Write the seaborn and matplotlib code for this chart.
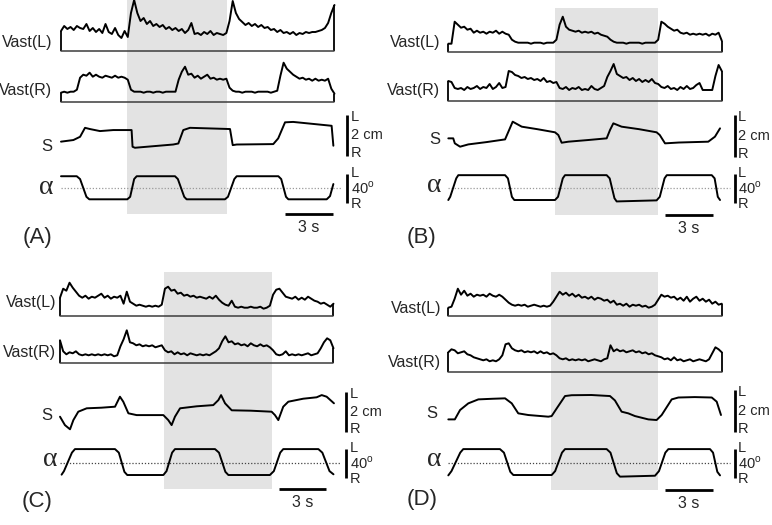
import numpy as np
import matplotlib
matplotlib.use('Agg')
import matplotlib.pyplot as plt
import seaborn as sns

sns.set_style('white')
plt.rcParams['font.family'] = ['Liberation Sans', 'DejaVu Sans']
plt.rcParams['mathtext.fontset'] = 'custom'
plt.rcParams['mathtext.rm'] = 'Liberation Sans'

FIG_W, FIG_H = 772, 525
PX_PER_S = 15.9          # time scale of the traces
DURATION = 17.2          # s shown in each panel
EMG_DT = 0.2             # s between EMG samples
EMG_RANGE = 55           # a.u. shown above the EMG baseline
S_BAR_CM = 2
ALPHA_BAR_DEG = 40
ALPHA_PX_PER_DEG = 0.71
TIME_BAR_S = 3
SHADE = '#e3e3e3'

# ---- EMG envelopes of m. vastus (left / right), height above baseline (a.u.)
A_VAST_L = [20, 25, 22, 24, 21, 25, 23, 22, 27, 20,
            23, 19, 22, 18, 27, 19, 17, 23, 16, 13,
            20, 14, 38, 51, 38, 30, 33, 27, 30, 25,
            27, 24, 26, 22, 24, 21, 23, 20, 22, 18,
            21, 28, 17, 18, 16, 19, 17, 20, 16, 18,
            17, 16, 18, 30, 50, 38, 32, 29, 26, 28,
            25, 27, 24, 26, 23, 24, 21, 22, 19, 21,
            18, 19, 17, 19, 16, 18, 17, 19, 18, 19,
            19, 20, 21, 23, 28, 38, 46]
A_VAST_R = [9, 10, 9, 10, 10, 12, 24, 27, 26, 29,
            25, 27, 25, 24, 26, 25, 24, 26, 24, 25,
            24, 22, 12, 10, 10, 10, 9, 10, 10, 9,
            10, 10, 9, 10, 10, 10, 10, 22, 30, 35,
            27, 28, 24, 26, 23, 25, 27, 23, 24, 22,
            23, 22, 23, 14, 11, 10, 10, 9, 10, 10,
            10, 9, 10, 10, 10, 10, 9, 10, 11, 26,
            39, 33, 30, 27, 25, 23, 24, 22, 23, 21,
            23, 21, 22, 21, 23, 13, 8]
B_VAST_L = [8, 8, 30, 27, 24, 25, 22, 23, 19, 21,
            19, 20, 18, 20, 19, 21, 18, 20, 18, 17,
            12, 10, 9, 9, 9, 9, 8, 9, 9, 9,
            8, 9, 9, 9, 12, 27, 35, 25, 22, 21,
            20, 21, 19, 20, 19, 20, 18, 19, 17, 16,
            15, 12, 10, 9, 9, 9, 8, 9, 9, 9,
            9, 8, 9, 9, 9, 9, 12, 30, 28, 25,
            23, 21, 22, 19, 18, 19, 17, 18, 17, 18,
            17, 18, 16, 18, 17, 19, 11]
B_VAST_R = [20, 19, 13, 12, 13, 11, 14, 12, 13, 15,
            12, 14, 13, 17, 12, 14, 18, 13, 14, 30,
            29, 26, 25, 23, 24, 22, 23, 21, 22, 20,
            23, 19, 20, 18, 19, 13, 12, 14, 11, 13,
            12, 14, 11, 12, 11, 15, 12, 11, 13, 15,
            24, 30, 37, 27, 25, 23, 24, 21, 23, 20,
            22, 19, 21, 19, 22, 18, 17, 14, 13, 15,
            12, 13, 11, 14, 12, 15, 12, 13, 16, 18,
            11, 11, 11, 11, 25, 36, 30]
C_VAST_L = [18, 27, 25, 33, 28, 24, 20, 18, 20, 17,
            19, 18, 20, 22, 18, 20, 17, 19, 18, 20,
            12, 24, 14, 12, 10, 11, 10, 9, 10, 9,
            10, 9, 11, 27, 29, 25, 26, 22, 23, 20,
            21, 19, 20, 18, 19, 18, 17, 19, 17, 20,
            16, 13, 11, 10, 15, 9, 8, 9, 8, 8,
            9, 8, 8, 9, 7, 8, 10, 21, 26, 27,
            23, 19, 18, 17, 19, 16, 18, 16, 19, 17,
            15, 14, 12, 13, 11, 9, 12]
C_VAST_R = [23, 12, 9, 11, 10, 12, 9, 8, 9, 8,
            9, 8, 9, 8, 9, 8, 9, 7, 8, 17,
            24, 33, 21, 20, 18, 19, 17, 18, 17, 18,
            16, 17, 18, 13, 11, 12, 9, 11, 9, 10,
            8, 10, 9, 8, 9, 8, 9, 8, 10, 12,
            15, 22, 27, 21, 22, 19, 20, 18, 19, 17,
            20, 18, 17, 19, 17, 18, 16, 13, 9, 8,
            9, 12, 8, 9, 8, 9, 8, 9, 10, 8,
            9, 10, 15, 21, 25, 23, 15]
D_VAST_L = [8, 9, 17, 27, 21, 25, 20, 22, 19, 21,
            20, 21, 19, 22, 20, 19, 21, 19, 16, 13,
            11, 10, 11, 10, 11, 9, 10, 11, 10, 9,
            10, 9, 10, 14, 19, 24, 21, 23, 20, 22,
            19, 21, 18, 19, 17, 19, 16, 18, 17, 15,
            16, 13, 15, 11, 12, 10, 12, 9, 11, 10,
            11, 9, 10, 8, 9, 11, 16, 21, 19, 20,
            18, 19, 16, 18, 15, 19, 14, 17, 19, 15,
            17, 14, 16, 12, 14, 11, 12]
D_VAST_R = [20, 23, 22, 19, 20, 21, 18, 17, 15, 14,
            13, 12, 13, 11, 12, 11, 13, 17, 28, 29,
            24, 22, 21, 22, 20, 21, 20, 21, 19, 21,
            19, 20, 18, 19, 17, 14, 13, 14, 12, 13,
            12, 13, 12, 13, 11, 12, 13, 12, 11, 13,
            14, 27, 21, 23, 21, 22, 20, 21, 22, 20,
            21, 19, 20, 18, 19, 17, 16, 15, 13, 14,
            12, 15, 12, 13, 11, 12, 13, 11, 12, 13,
            12, 11, 13, 19, 25, 23, 20]

# ---- sway S (cm, + = left)
A_S_T = [0, 0.78, 1.2, 1.51, 1.82, 2.45, 3.29, 4.44, 4.5, 4.65, 7.06, 7.38,
         7.69, 8.11, 10.63, 10.8, 11.05, 13.35, 13.66, 14.09, 14.6, 17.02, 17.13]
A_S = [-0.31, -0.23, -0.07, 0.37, 0.31, 0.21, 0.26, 0.26, -0.56, -0.61, -0.45, -0.40,
       0.26, 0.37, 0.31, -0.48, -0.45, -0.43, -0.15, 0.64, 0.66, 0.47, -0.51]
B_S_T = [0, 0.31, 0.41, 0.74, 1.26, 2.4, 3.57, 3.78, 4.05, 4.62, 5.6, 6.71, 6.92,
         7.13, 7.55, 8.8, 9.96, 10.17, 10.38, 10.9, 12.0, 13.1, 13.3, 13.63, 14.5,
         16.35, 16.77, 17.09]
B_S = [-0.12, -0.12, -0.36, -0.52, -0.41, -0.30, -0.17, 0.20, 0.68, 0.44, 0.32, 0.17, 0.04,
       -0.33, -0.28, -0.20, -0.12, 0.28, 0.60, 0.44, 0.32, 0.17, 0.04, -0.36, -0.32,
       -0.28, -0.04, 0.36]
C_S_T = [0, 0.31, 0.63, 0.84, 1.15, 1.68, 2.6, 3.46, 3.77, 3.98, 4.3, 4.82, 5.7, 6.5,
         6.81, 7.02, 7.23, 7.55, 8.6, 9.64, 9.96, 10.13, 10.38, 10.8, 12.0, 13.31,
         13.52, 13.73, 14.04, 14.36, 15.3, 16.14, 16.46, 16.77, 17.23]
C_S = [-0.25, -0.67, -0.88, -0.42, 0.0, 0.17, 0.2, 0.25, 0.75, 0.5, -0.08, -0.17, -0.17, -0.17,
       -0.42, -0.67, -0.25, 0.17, 0.27, 0.33, 0.58, 0.83, 0.42, 0.07, 0.05, 0.0,
       -0.17, -0.42, 0.25, 0.5, 0.65, 0.72, 0.83, 0.75, 0.42]
D_S_T = [0, 0.41, 0.74, 1.26, 1.89, 2.8, 3.57, 3.99, 4.4, 5.03, 6.29, 6.5, 6.82, 7.34,
         7.76, 9.0, 10.17, 10.48, 10.9, 11.32, 11.74, 12.58, 13.1, 13.42, 14.05, 14.47,
         15.5, 16.57, 16.88, 17.15]
D_S = [-0.41, -0.41, 0.04, 0.36, 0.55, 0.58, 0.60, 0.36, -0.12, -0.2, -0.28, -0.25, 0.12, 0.71,
       0.75, 0.76, 0.71, 0.5, -0.04, -0.12, -0.25, -0.41, -0.44, -0.2, 0.55, 0.64,
       0.66, 0.64, 0.44, -0.2]

# ---- platform tilt alpha (deg, + = left)
A_ALPHA_T = [0, 0.99, 1.2, 1.6, 1.78, 4.17, 4.35, 4.6, 4.76, 7.17, 7.35, 7.75, 7.9,
             10.31, 10.5, 10.9, 11.05, 13.67, 13.85, 14.15, 14.3, 16.71, 16.92, 17.13]
A_ALPHA = [17, 17, 13, -12, -15.5, -15.5, -12, 13, 17, 17, 13, -12, -15.5,
           -15.5, -12, 13, 17, 17, 13, -12, -15.5, -15.5, -11, 6]
B_ALPHA_T = [0, 0.12, 0.5, 0.63, 3.57, 3.75, 4.0, 4.15, 6.71, 6.9, 7.2, 7.34, 9.96,
             10.15, 10.45, 10.59, 13.1, 13.3, 13.6, 13.74, 16.57, 16.75, 16.95, 17.09]
B_ALPHA = [-16.5, -12, 14, 18.5, 18.5, 14, -12, -16.5, -16.5, -12, 14, 18.5, 18.5,
           14, -14, -18.5, -17, -12, 14, 18.5, 18.5, 14, -12, -16.5]
C_ALPHA_T = [0.1, 0.25, 0.75, 0.94, 3.46, 3.7, 4.05, 4.23, 6.5, 6.7, 7.05, 7.23, 9.75,
             10.0, 10.4, 10.59, 13.2, 13.45, 13.85, 14.04, 16.25, 16.5, 16.95, 17.2]
C_ALPHA = [-16, -11, 15, 20, 20, 15, -12, -16.5, -16.5, -11, 15, 20, 20,
           15, -12, -16.5, -16.5, -11, 15, 20, 20, 15, -11, -15.5]
D_ALPHA_T = [0, 0.2, 0.75, 0.94, 3.25, 3.5, 3.9, 4.09, 6.5, 6.72, 7.15, 7.34, 9.96,
             10.2, 10.6, 10.8, 13.0, 13.25, 13.65, 13.84, 16.46, 16.65, 16.92, 17.09]
D_ALPHA = [-17, -11, 15, 20, 20, 15, -12, -16.5, -16.5, -11, 15, 20, 20,
           15, -14, -18.8, -17.5, -11, 15, 20, 20, 15, -12, -17]

# ---- shaded interval (s)
A_SHADE = [4.13, 10.42]
B_SHADE = [6.71, 13.2]
C_SHADE = [6.56, 13.31]
D_SHADE = [6.46, 13.2]

PANELS = {
    'A': dict(vast_l=A_VAST_L, vast_r=A_VAST_R, s_t=A_S_T, s=A_S, a_t=A_ALPHA_T, a=A_ALPHA, shade=A_SHADE),
    'B': dict(vast_l=B_VAST_L, vast_r=B_VAST_R, s_t=B_S_T, s=B_S, a_t=B_ALPHA_T, a=B_ALPHA, shade=B_SHADE),
    'C': dict(vast_l=C_VAST_L, vast_r=C_VAST_R, s_t=C_S_T, s=C_S, a_t=C_ALPHA_T, a=C_ALPHA, shade=C_SHADE),
    'D': dict(vast_l=D_VAST_L, vast_r=D_VAST_R, s_t=D_S_T, s=D_S, a_t=D_ALPHA_T, a=D_ALPHA, shade=D_SHADE),
}

# pixel layout of each panel
LAYOUT = {
    'A': dict(x0=61, l_base=51, r_base=101.7, s_top=115, s_bot=155.7, a_mid=188.3,
              sh_top=0, sh_bot=214, dot='#9a9a9a', lab_x=52.5, s_x=52, l_y=42, r_y=90,
              s_y=146, a_base=194, tag=(37, 238), bar_t=14.1),
    'B': dict(x0=448.3, l_base=51.7, r_base=101, s_top=115, s_bot=156.7, a_mid=188.3,
              sh_top=8.3, sh_bot=215, dot='#9a9a9a', lab_x=440.5, s_x=440, l_y=43, r_y=90,
              s_y=140, a_base=192.5, tag=(421, 237), bar_t=13.65),
    'C': dict(x0=60, l_base=315.7, r_base=363.3, s_top=391.7, s_bot=431.7, a_mid=463.3,
              sh_top=272, sh_bot=489, dot='#444444', lab_x=56, s_x=52, l_y=302, r_y=352,
              s_y=415, a_base=466, tag=(37, 502), bar_t=13.75),
    'D': dict(x0=448.3, l_base=315.7, r_base=372.3, s_top=390, s_bot=431.7, a_mid=463.3,
              sh_top=271.7, sh_bot=490, dot='#444444', lab_x=441, s_x=437, l_y=308, r_y=362,
              s_y=413, a_base=466, tag=(422, 500), bar_t=13.65),
}
BAR_T = 18.0  # time position of the vertical scale bars


def px_axes(fig, left, top, width, height):
    ax = fig.add_axes([left / FIG_W, 1 - (top + height) / FIG_H, width / FIG_W, height / FIG_H])
    ax.axis('off')
    return ax


def fig_text(fig, x, y, s, **kw):
    fig.text(x / FIG_W, 1 - y / FIG_H, s, **kw)


def draw_emg(ax, values):
    t = np.arange(len(values)) * EMG_DT
    sns.lineplot(x=t, y=values, ax=ax, color='black', linewidth=1.4,
                 estimator=None, sort=False, clip_on=False)
    ax.vlines([t[0], t[-1]], 0, [values[0], values[-1]], color='black', linewidth=1.3, clip_on=False)
    ax.axhline(0, color='#3c3c3c', linewidth=1.1, clip_on=False)
    ax.set_xlim(0, DURATION)
    ax.set_ylim(0, EMG_RANGE)


fig = plt.figure(figsize=(FIG_W / 100, FIG_H / 100), dpi=100)
width = DURATION * PX_PER_S

for key, data in PANELS.items():
    lay = LAYOUT[key]
    x0 = lay['x0']

    # shaded interval and time scale bar
    back = px_axes(fig, x0, lay['sh_top'], width, lay['sh_bot'] - lay['sh_top'])
    back.axvspan(*data['shade'], color=SHADE, lw=0)
    back.set_xlim(0, DURATION)
    back.set_ylim(0, 1)
    t_bar = [lay['bar_t'], lay['bar_t'] + TIME_BAR_S]
    back.plot(t_bar, [0, 0], color='black', lw=2, clip_on=False, solid_capstyle='butt')
    back.annotate(f'{TIME_BAR_S} s', (np.mean(t_bar), 0), xytext=(0, -10),
                  textcoords='offset points', ha='center', va='center', fontsize=11.5)

    # EMG traces
    for vals, base in [(data['vast_l'], lay['l_base']), (data['vast_r'], lay['r_base'])]:
        ax = px_axes(fig, x0, base - EMG_RANGE, width, EMG_RANGE)
        draw_emg(ax, vals)

    # sway S
    ax_s = px_axes(fig, x0, lay['s_top'], width, lay['s_bot'] - lay['s_top'])
    sns.lineplot(x=data['s_t'], y=data['s'], ax=ax_s, color='black', linewidth=1.4,
                 estimator=None, sort=False, clip_on=False)
    ax_s.set_xlim(0, DURATION)
    ax_s.set_ylim(-S_BAR_CM / 2, S_BAR_CM / 2)
    ax_s.plot([BAR_T, BAR_T], [-S_BAR_CM / 2, S_BAR_CM / 2], color='black', lw=2,
              clip_on=False, solid_capstyle='butt')
    for y, s in [(0.9, 'L'), (0.0, f'{S_BAR_CM} cm'), (-0.87, 'R')]:
        ax_s.text(BAR_T + 0.22, y, s, va='center', ha='left', fontsize=10.5)

    # tilt alpha
    a_h = ALPHA_BAR_DEG * ALPHA_PX_PER_DEG
    ax_a = px_axes(fig, x0, lay['a_mid'] - a_h / 2, width, a_h)
    ax_a.axhline(0, xmin=0, xmax=17.7 / DURATION, ls=(0, (1, 1.5)), color=lay['dot'],
                 lw=0.9, clip_on=False)
    sns.lineplot(x=data['a_t'], y=data['a'], ax=ax_a, color='black', linewidth=1.4,
                 estimator=None, sort=False, clip_on=False)
    ax_a.set_xlim(0, DURATION)
    ax_a.set_ylim(-ALPHA_BAR_DEG / 2, ALPHA_BAR_DEG / 2)
    ax_a.plot([BAR_T, BAR_T], [-ALPHA_BAR_DEG / 2, ALPHA_BAR_DEG / 2], color='black', lw=2,
              clip_on=False, solid_capstyle='butt')
    for y, s in [(21.5, 'L'), (0.0, f'{ALPHA_BAR_DEG}' + r'$^{\mathregular{o}}$'), (-21.5, 'R')]:
        ax_a.text(BAR_T + 0.22, y, s, va='center', ha='left', fontsize=10.5)

    # row labels
    fig_text(fig, lay['lab_x'], lay['l_y'], 'Vast(L)', ha='right', va='center', fontsize=11.5)
    fig_text(fig, lay['lab_x'], lay['r_y'], 'Vast(R)', ha='right', va='center', fontsize=11.5)
    fig_text(fig, lay['s_x'], lay['s_y'], 'S', ha='right', va='center', fontsize=12)
    fig_text(fig, lay['lab_x'] + 1, lay['a_base'], '\u03b1', ha='right', va='baseline',
             fontsize=20, family=['Liberation Serif', 'DejaVu Serif'])
    fig_text(fig, *lay['tag'], f'({key})', ha='center', va='center', fontsize=16)

fig.savefig('out.png', dpi=100)
